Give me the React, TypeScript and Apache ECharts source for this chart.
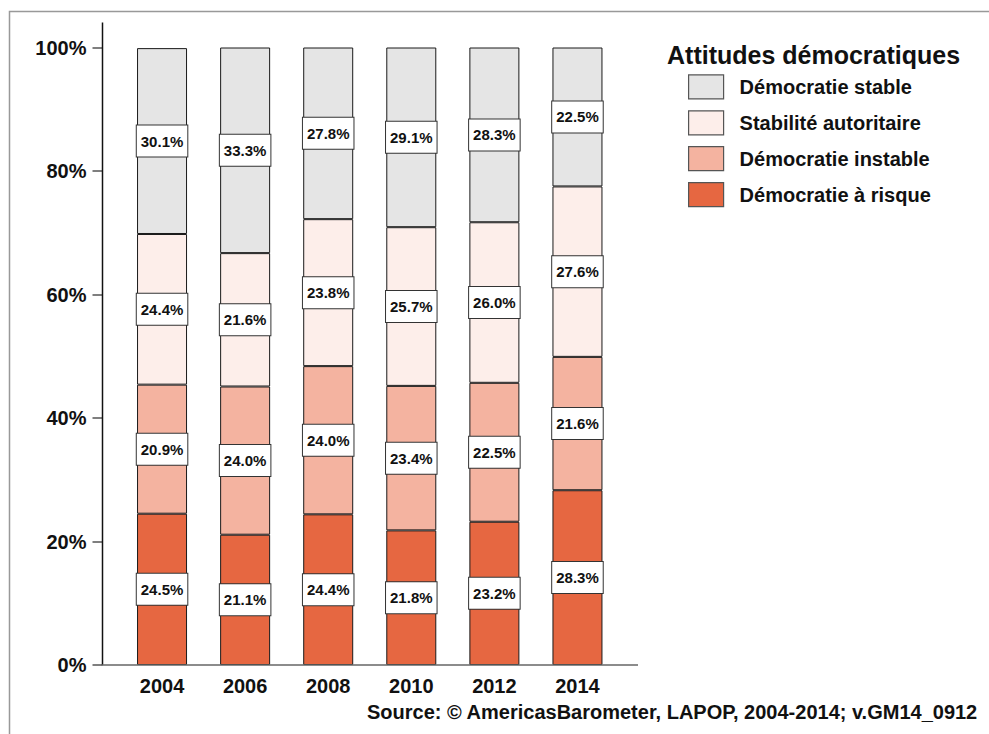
import React, { useEffect, useRef } from "react";
import * as echarts from "echarts";

const years = ["2004", "2006", "2008", "2010", "2012", "2014"];
const risque = [24.5, 21.1, 24.4, 21.8, 23.2, 28.3];
const instable = [20.9, 24.0, 24.0, 23.4, 22.5, 21.6];
const autoritaire = [24.4, 21.6, 23.8, 25.7, 26.0, 27.6];
const stable = [30.1, 33.3, 27.8, 29.1, 28.3, 22.5];
const yTicks = [0, 20, 40, 60, 80, 100];

const FONT = "'Liberation Sans', Arial, sans-serif";

export default function App() {
  const ref = useRef<HTMLDivElement>(null);
  useEffect(() => {
    if (!ref.current) return;
    const chart = echarts.init(ref.current, undefined, { renderer: "svg" });
    const mk = (name: string, data: number[], color: string) => ({
      name,
      type: "bar",
      stack: "total",
      barWidth: 50,
      data,
      itemStyle: { color, borderColor: "#1a1a1a", borderWidth: 1 },
      label: {
        show: true,
        position: "inside",
        formatter: (p: any) => p.value.toFixed(1) + "%",
        fontFamily: FONT,
        fontSize: 15,
        fontWeight: "bold",
        color: "#111",
        lineHeight: 15,
        backgroundColor: "#fff",
        borderColor: "#333",
        borderWidth: 1,
        padding: [8, 4, 8, 4],
      },
    });
    chart.setOption({
      animation: false,
      textStyle: { fontFamily: FONT },
      title: {
        text: "Attitudes démocratiques",
        left: 667,
        top: 42,
        padding: 0,
        textStyle: { fontFamily: FONT, fontSize: 25, fontWeight: "bold", color: "#111" },
      },
      legend: {
        orient: "vertical",
        left: 688,
        top: 74.3,
        padding: 0,
        itemWidth: 35,
        itemHeight: 24,
        itemGap: 10.7,
        icon: "rect",
        data: ["Démocratie stable", "Stabilité autoritaire", "Démocratie instable", "Démocratie à risque"],
        itemStyle: { borderColor: "#555", borderWidth: 1.2 },
        textStyle: {
          fontFamily: FONT,
          fontSize: 20,
          fontWeight: "bold",
          color: "#111",
          padding: [0, 0, 0, 11],
        },
      },
      grid: { left: 120.5, top: 47.5, width: 498.5, height: 617.5 },
      xAxis: {
        type: "category",
        data: years,
        axisLine: { show: false },
        axisTick: { show: false },
        axisLabel: { margin: 11, fontFamily: FONT, fontSize: 20, fontWeight: "bold", color: "#111" },
      },
      yAxis: {
        type: "value",
        min: yTicks[0],
        max: yTicks[yTicks.length - 1],
        interval: 20,
        offset: 18,
        splitLine: { show: false },
        axisLine: { show: false },
        axisTick: { show: true, length: 10, lineStyle: { color: "#555", width: 1.5 } },
        axisLabel: {
          margin: 16,
          formatter: "{value}%",
          fontFamily: FONT,
          fontSize: 20,
          fontWeight: "bold",
          color: "#111",
        },
      },
      graphic: [
        {
          type: "polyline",
          shape: { points: [[9.5, 734], [9.5, 11.5], [989, 11.5]] },
          style: { stroke: "#999", lineWidth: 1.5, fill: null },
          z: 100,
        },
        {
          type: "line",
          shape: { x1: 102.5, y1: 22.5, x2: 102.5, y2: 665 },
          style: { stroke: "#111", lineWidth: 1.5 },
          z: 100,
        },
        {
          type: "line",
          shape: { x1: 101.5, y1: 665, x2: 638, y2: 665 },
          style: { stroke: "#666", lineWidth: 1.5 },
          z: 100,
        },
        {
          type: "text",
          left: 367,
          top: 702,
          style: {
            text: "Source: © AmericasBarometer, LAPOP, 2004-2014; v.GM14_0912",
            font: "bold 20px " + FONT,
            fill: "#111",
          },
          z: 100,
        },
      ],
      series: [
        mk("Démocratie à risque", risque, "#e66741"),
        mk("Démocratie instable", instable, "#f4b3a0"),
        mk("Stabilité autoritaire", autoritaire, "#fdeeea"),
        mk("Démocratie stable", stable, "#e5e5e5"),
      ],
    });
    return () => chart.dispose();
  }, []);
  return (
    <div
      ref={ref}
      style={{ position: "fixed", left: 0, top: 0, width: 989, height: 734, background: "#fff" }}
    />
  );
}
